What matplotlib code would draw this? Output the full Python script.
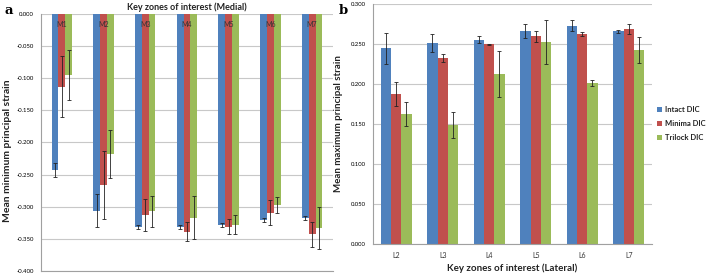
import matplotlib
matplotlib.use("Agg")
import matplotlib.pyplot as plt
import numpy as np

plt.rcParams['font.family'] = ['Lato', 'DejaVu Sans']

# ---- data ----
medial_zones = ["M1", "M2", "M3", "M4", "M5", "M6", "M7"]
medial_intact = [-0.243, -0.306, -0.331, -0.332, -0.329, -0.321, -0.318]
medial_intact_err = [0.011, 0.026, 0.003, 0.003, 0.003, 0.003, 0.003]
medial_minima = [-0.113, -0.266, -0.313, -0.339, -0.331, -0.309, -0.343]
medial_minima_err = [0.048, 0.053, 0.025, 0.015, 0.012, 0.020, 0.019]
medial_trilock = [-0.095, -0.218, -0.307, -0.317, -0.328, -0.297, -0.333]
medial_trilock_err = [0.039, 0.038, 0.024, 0.033, 0.015, 0.012, 0.032]
medial_ticks = ["-0.400", "-0.350", "-0.300", "-0.250", "-0.200", "-0.150", "-0.100", "-0.050", "0.000"]

lateral_zones = ["L2", "L3", "L4", "L5", "L6", "L7"]
lateral_intact = [0.244, 0.251, 0.255, 0.266, 0.2725, 0.2655]
lateral_intact_err = [0.019, 0.011, 0.004, 0.009, 0.007, 0.002]
lateral_minima = [0.187, 0.232, 0.249, 0.259, 0.262, 0.268]
lateral_minima_err = [0.015, 0.005, 0.001, 0.007, 0.002, 0.006]
lateral_trilock = [0.162, 0.148, 0.212, 0.252, 0.201, 0.242]
lateral_trilock_err = [0.015, 0.016, 0.029, 0.028, 0.004, 0.016]
lateral_ticks = ["0.000", "0.050", "0.100", "0.150", "0.200", "0.250", "0.300"]

series_names = ["Intact DIC", "Minima DIC", "Trilock DIC"]
colors = ["#4F81BD", "#C0504D", "#9BBB59"]

grid_c = "#C8C8C8"
tick_fs = 4.3

fig = plt.figure(figsize=(7.08, 2.74), dpi=100)

# ---- left panel ----
axL = fig.add_axes([0.0579, 0.01095, 0.4124, 0.938])
x = np.arange(len(medial_zones))
w = 0.163
for i, (vals, errs) in enumerate([(medial_intact, medial_intact_err),
                                  (medial_minima, medial_minima_err),
                                  (medial_trilock, medial_trilock_err)]):
    axL.bar(x + (i - 1) * w, vals, w, color=colors[i], zorder=2,
            yerr=errs, error_kw=dict(ecolor="#222222", elinewidth=0.6,
                                     capsize=1.3, capthick=0.6, zorder=3))
axL.set_xlim(-0.5, len(medial_zones) - 0.5)
axL.set_ylim(-0.4, 0.0)
axL.set_yticks([float(t) for t in medial_ticks])
axL.set_yticklabels(medial_ticks, fontsize=tick_fs)
axL.yaxis.grid(True, color=grid_c, linewidth=0.8, zorder=0)
axL.set_xticks([])
for xi, lab in zip(x, medial_zones):
    axL.text(xi, -0.011, lab, ha="center", va="top", fontsize=5.0, color="#333333", zorder=4)
for s in ["top", "right"]:
    axL.spines[s].set_visible(False)
axL.spines["left"].set_color("#A0A0A0")
axL.spines["bottom"].set_color("#A0A0A0")
axL.spines["left"].set_linewidth(0.8)
axL.spines["bottom"].set_linewidth(0.8)
axL.tick_params(axis="y", length=0, pad=5)
axL.set_title("Key zones of interest (Medial)", fontsize=6.5, fontweight="bold",
              color="#222222", pad=3)
axL.set_ylabel("Mean minimum principal strain", fontsize=7.5, fontweight="bold",
               color="#222222")
axL.yaxis.set_label_coords(-0.098, 0.47)

# ---- right panel ----
axR = fig.add_axes([0.5268, 0.1106, 0.394, 0.876])
x2 = np.arange(len(lateral_zones))
w2 = 0.22
for i, (vals, errs) in enumerate([(lateral_intact, lateral_intact_err),
                                  (lateral_minima, lateral_minima_err),
                                  (lateral_trilock, lateral_trilock_err)]):
    axR.bar(x2 + (i - 1) * w2, vals, w2, color=colors[i], zorder=2, label=series_names[i],
            yerr=errs, error_kw=dict(ecolor="#222222", elinewidth=0.6,
                                     capsize=1.5, capthick=0.6, zorder=3))
axR.set_xlim(-0.5, len(lateral_zones) - 0.5)
axR.set_ylim(0.0, 0.3)
axR.set_yticks([float(t) for t in lateral_ticks])
axR.set_yticklabels(lateral_ticks, fontsize=tick_fs)
axR.yaxis.grid(True, color=grid_c, linewidth=0.8, zorder=0)
axR.set_xticks(x2)
axR.set_xticklabels(lateral_zones, fontsize=5.0, color="#333333")
axR.tick_params(axis="x", length=0, pad=6)
axR.tick_params(axis="y", length=0, pad=5)
for s in ["top", "right"]:
    axR.spines[s].set_visible(False)
axR.spines["left"].set_color("#A0A0A0")
axR.spines["bottom"].set_color("#A0A0A0")
axR.spines["left"].set_linewidth(0.8)
axR.spines["bottom"].set_linewidth(0.8)
axR.set_ylabel("Mean maximum principal strain", fontsize=7.0, fontweight="bold",
               color="#222222", labelpad=6)
axR.set_xlabel("Key zones of interest (Lateral)", fontsize=7.0, fontweight="bold",
               color="#222222", labelpad=3)
leg = axR.legend(loc="center left", bbox_to_anchor=(1.0, 0.5), frameon=False,
                 fontsize=5.5, handlelength=0.7, handleheight=0.7, handletextpad=0.4,
                 labelspacing=0.9, borderaxespad=0.2)
for t in leg.get_texts():
    t.set_fontweight("bold")
    t.set_color("#222222")

# panel letters
fig.text(0.006, 0.962, "a", fontsize=9.5, fontweight="bold", family="DejaVu Serif",
         ha="left", va="center")
fig.text(0.479, 0.962, "b", fontsize=9.5, fontweight="bold", family="DejaVu Serif",
         ha="left", va="center")

fig.savefig("out.png", dpi=100)
